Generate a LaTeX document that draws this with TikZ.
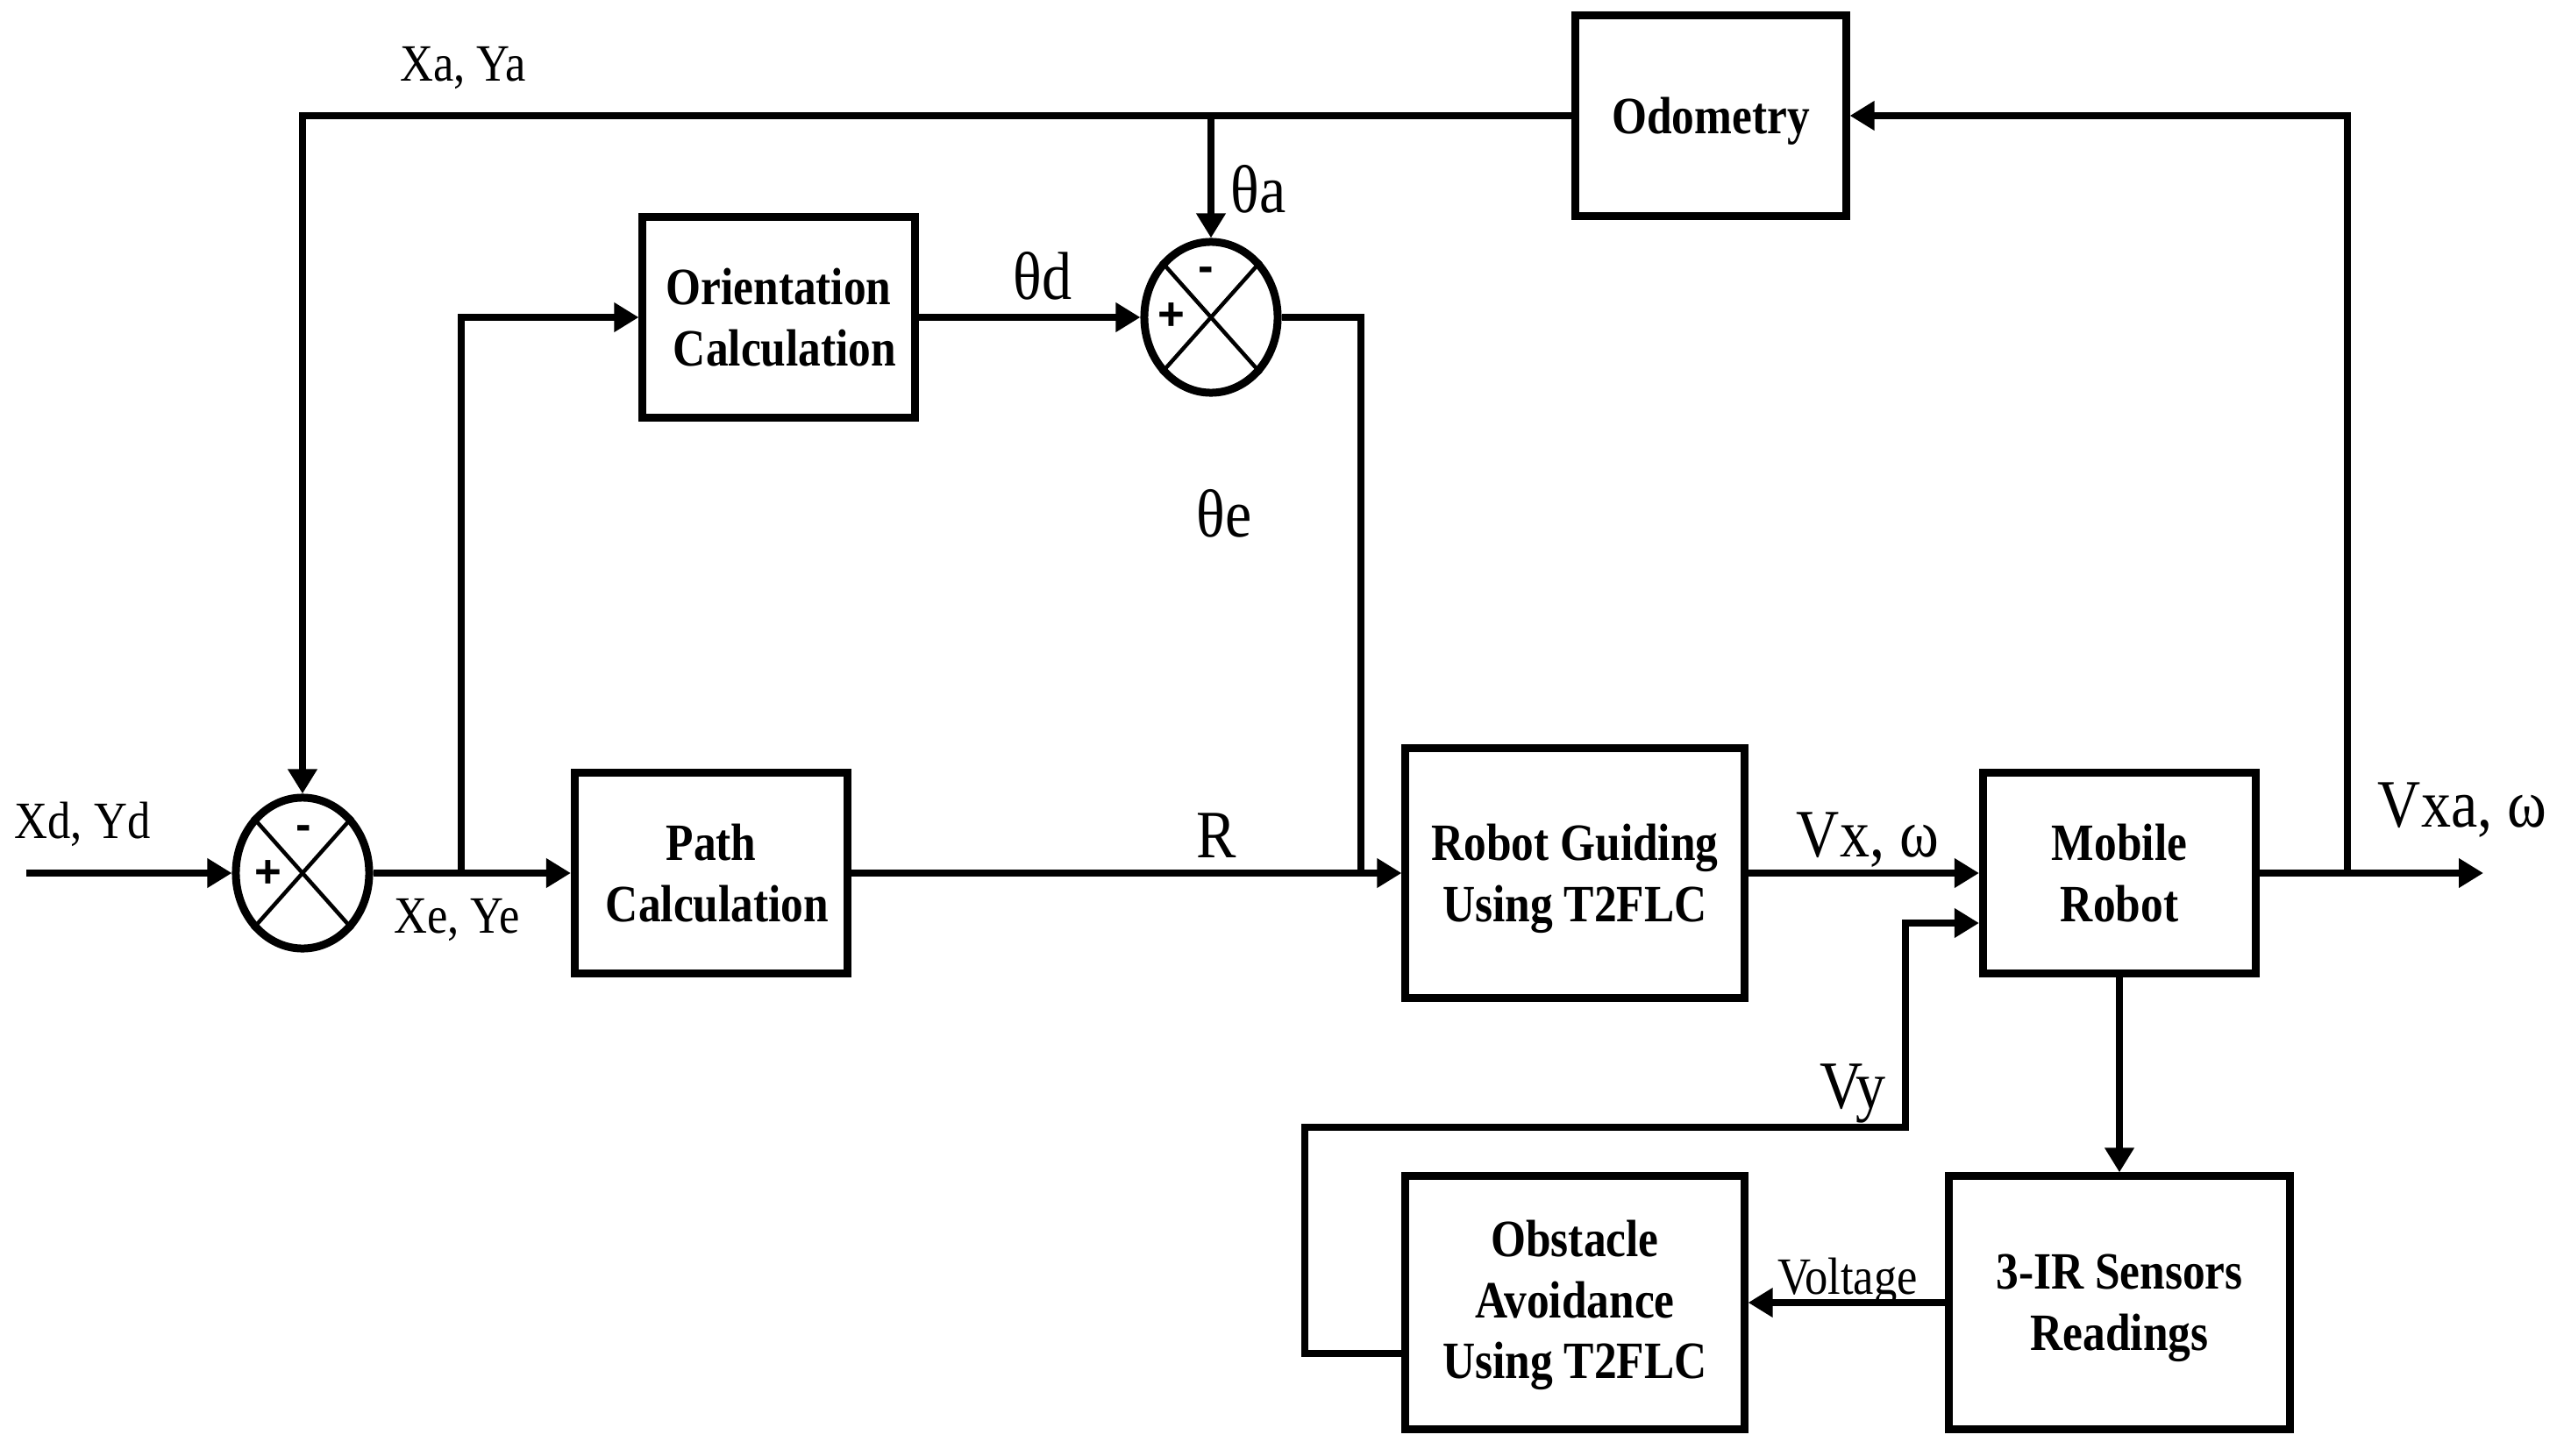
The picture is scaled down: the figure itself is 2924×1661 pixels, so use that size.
\documentclass[tikz,border=0pt]{standalone}
\usepackage{fontspec}
\setmainfont[FakeStretch=0.88]{Liberation Serif}
\newfontfamily\blockfont[FakeStretch=0.86]{Liberation Serif}
\newfontfamily\signfont{Liberation Sans}
\usetikzlibrary{arrows.meta,shapes.geometric,positioning}
\tikzset{
	blk/.style={draw,line width=0.09cm,inner sep=0pt,align=center,text depth=0pt,font=\blockfont\bfseries\fontsize{17}{19.8}\selectfont},
	summer/.style={draw,ellipse,line width=0.09cm,inner sep=0pt,minimum width=1.52cm,minimum height=1.72cm},
	sig/.style={line width=0.075cm},
	sgn/.style={inner sep=0pt,font=\signfont\bfseries\fontsize{15}{15}\selectfont},
	lab/.style={anchor=base,inner sep=0pt,font=\fontsize{17}{20}\selectfont},
	biglab/.style={anchor=base,inner sep=0pt,font=\fontsize{22}{24}\selectfont}
}
\begin{document}
\begin{tikzpicture}[x=0.01cm,y=-0.01cm,>={Triangle[length=0.28cm,width=0.32cm]}]
	\useasboundingbox (0,0) rectangle (2924,1661);

	\node[blk,minimum width=3.08cm,minimum height=2.28cm] (odom) at (1951,132) {Odometry};
	\node[blk,minimum width=3.1cm,minimum height=2.28cm] (orient) at (888,362) {Orientation\\\hspace*{0.14cm}Calculation};
	\node[blk,minimum width=3.11cm,minimum height=2.28cm] (path) at (811,996) {Path\\\hspace*{0.14cm}Calculation};
	\node[blk,minimum width=3.86cm,minimum height=2.85cm] (guide) at (1796,996) {Robot Guiding\\Using T2FLC};
	\node[blk,minimum width=3.11cm,minimum height=2.29cm] (mobile) at (2417,996) {Mobile\\Robot};
	\node[blk,minimum width=3.88cm,minimum height=2.88cm] (ir) at (2417,1486) {3-IR Sensors\\Readings};
	\node[blk,minimum width=3.86cm,minimum height=2.88cm,text depth=0.07cm] (obst) at (1796,1486) {Obstacle\\Avoidance\\Using T2FLC};

	\node[summer] (sum1) at (345,996) {};
	\node[summer] (sum2) at (1381,362) {};
	\draw[line width=0.045cm] (sum1.north west) -- (sum1.south east); \draw[line width=0.045cm] (sum1.north east) -- (sum1.south west);
	\draw[line width=0.045cm] (sum2.north west) -- (sum2.south east); \draw[line width=0.045cm] (sum2.north east) -- (sum2.south west);
	\node[sgn] (plus1) at (306,997) {+}; \node[sgn] (minus1) at (346,950) {-};
	\node[sgn] (plus2) at (1336,361) {+}; \node[sgn] (minus2) at (1375,313) {-};

	\coordinate (xin) at (30,996);
	\coordinate (xout) at (2832,996);
	\coordinate (xebr) at (526,996);
	\coordinate (tebr) at (1552,996);
	\coordinate (fbbr) at (2677,996);
	\coordinate (tabr) at (1381,132);
	\coordinate (vyo) at (1600,1544);
	\coordinate (vyl) at (1488,1286);
	\coordinate (vyr) at (2173,1053);

	\draw[sig,->] (xin) -- (sum1.west);
	\draw[sig,->] (sum1.east) -- (path.west);
	\draw[sig,->] (xebr) |- (orient.west);
	\draw[sig,->] (orient.east) -- (sum2.west);
	\draw[sig] (sum2.east) -| (tebr);
	\draw[sig,->] (path.east) -- (guide.west);
	\draw[sig,->] (guide.east) -- (mobile.west);
	\draw[sig,->] (mobile.east) -- (xout);
	\draw[sig,->] (fbbr) |- (odom.east);
	\draw[sig,->] (odom.west) -| (sum1.north);
	\draw[sig,->] (tabr) -- (sum2.north);
	\draw[sig,->] (mobile.south) -- (ir.north);
	\draw[sig,->] (ir.west) -- (obst.east);
	\draw[sig,->] (vyo) -| (vyl) -| (vyr) -- (vyr -| mobile.west);

	\node[lab] (xalab) at (528,93) {Xa, Ya};
	\node[lab] (xdlab) at (94,956) {Xd, Yd};
	\node[lab] (xelab) at (521,1064) {Xe, Ye};
	\node[biglab] (tdlab) at (1189,342) {θd};
	\node[biglab] (talab) at (1435,243) {θa};
	\node[biglab] (telab) at (1396,613) {θe};
	\node[biglab] (rlab) at (1387,978) {R};
	\node[biglab] (vxlab) at (2130,977) {Vx, ω};
	\node[biglab] (vxalab) at (2808,943) {Vxa, ω};
	\node[biglab] (vylab) at (2113,1264) {Vy};
	\node[lab] (vlab) at (2107,1476) {Voltage};
\end{tikzpicture}
\end{document}
